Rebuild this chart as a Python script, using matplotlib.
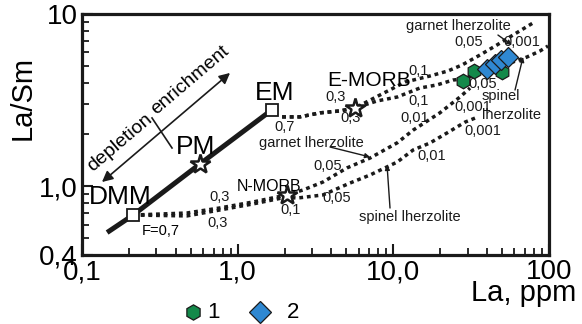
import numpy as np
import matplotlib
matplotlib.use("Agg")
import matplotlib.pyplot as plt
from matplotlib.lines import Line2D
from matplotlib.ticker import FixedLocator, FixedFormatter, LogLocator, NullFormatter

plt.rcParams['font.family'] = ['Liberation Sans', 'DejaVu Sans']

# source compositions (La ppm, La/Sm)
dmm = (0.213, 0.682)
pm = (0.573, 1.35)
em = (1.66, 2.78)
n_morb = (2.07, 0.892)
e_morb = (5.67, 2.85)

# mixing line DMM - PM - EM
mix_x = [0.145, 0.213, 0.573, 1.66]
mix_y = [0.54, 0.682, 1.35, 2.78]

# melting curves, DMM source
dmm_gt_x = [0.213, 0.472, 0.770, 1.254, 2.07, 2.63, 3.53, 5.04, 7.08, 10.6, 13.4, 19.9, 26.8, 31.1]
dmm_gt_y = [0.682, 0.701, 0.750, 0.812, 0.892, 0.953, 1.06, 1.28, 1.46, 1.79, 2.12, 2.67, 3.30, 3.72]
dmm_sp_x = [0.213, 0.472, 0.770, 1.254, 2.07, 2.40, 3.53, 5.27, 7.08, 10.6, 13.4, 17.2, 22.1, 28.9, 35.0]
dmm_sp_y = [0.682, 0.674, 0.730, 0.791, 0.868, 0.855, 0.892, 1.046, 1.164, 1.385, 1.626, 1.786, 2.04, 2.36, 2.53]

# melting curves, EM source
em_gt_x = [1.93, 2.51, 3.38, 4.54, 5.67, 8.21, 11.9, 17.2, 22.4, 27.6, 36.0, 46.3, 58.7, 78.9]
em_gt_y = [2.53, 2.53, 2.67, 2.74, 2.85, 3.39, 4.03, 4.37, 4.67, 5.06, 5.78, 6.61, 7.55, 8.87]
em_sp_x = [1.93, 2.51, 3.38, 4.54, 5.67, 7.86, 10.6, 14.8, 19.1, 24.2, 28.0, 41.8, 58.7, 72.2, 87.5, 98.5]
em_sp_y = [2.53, 2.53, 2.67, 2.74, 2.85, 3.13, 3.30, 3.72, 3.88, 4.14, 4.20, 4.73, 5.27, 5.63, 6.10, 6.52]

# samples
grp1_x = [28.0, 32.9, 49.8]
grp1_y = [4.09, 4.67, 4.61]
grp2_x = [39.9, 44.9, 49.1, 54.5]
grp2_y = [4.80, 5.13, 5.41, 5.63]

x_ticks = [0.1, 1, 10, 100]
x_labels = ['0,1', '1,0', '10,0', '100']
y_ticks = [0.4, 1, 10]
y_labels = ['0,4', '1,0', '10']

green = '#13894a'
blue = '#2f88d2'
ink = '#1a1a1a'

fig = plt.figure(figsize=(5.82, 3.24), dpi=100)
ax = fig.add_axes([0.1409, 0.2130, 0.8024, 0.7438])
ax.set_xscale('log')
ax.set_yscale('log')
ax.set_xlim(0.1, 100)
ax.set_ylim(0.4, 10)

dots = dict(color=ink, lw=2.5, linestyle=(0, (1.1, 1.1)), dash_capstyle='butt', zorder=2)
ax.plot(dmm_gt_x, dmm_gt_y, **dots)
ax.plot(dmm_sp_x, dmm_sp_y, **dots)
ax.plot(em_gt_x, em_gt_y, **dots)
ax.plot(em_sp_x, em_sp_y, **dots)

ax.plot(mix_x, mix_y, color=ink, lw=3.6, solid_capstyle='butt', zorder=3)

ax.plot(*dmm, 's', ms=9, mfc='white', mec=ink, mew=1.3, zorder=5)
ax.plot(*em, 's', ms=9, mfc='white', mec=ink, mew=1.3, zorder=5)
for p in (pm, n_morb, e_morb):
    ax.plot(*p, '*', ms=15, mfc='white', mec=ink, mew=1.8, zorder=5)

ax.plot(grp1_x, grp1_y, 'h', ms=10.5, mfc=green, mec=ink, mew=0.9, ls='none', zorder=6)
ax.plot(grp2_x, grp2_y, 'D', ms=10.5, mfc=blue, mec=ink, mew=0.9, ls='none', zorder=7)

# labels of sources
ax.text(0.1754, 0.868, 'DMM', fontsize=19, ha='center', va='center')
ax.text(0.540, 1.692, 'PM', fontsize=19, ha='center', va='center')
ax.text(1.737, 3.48, 'EM', fontsize=19, ha='center', va='center')
ax.text(6.98, 4.14, 'E-MORB', fontsize=15, ha='center', va='center')
ax.text(1.589, 0.992, 'N-MORB', fontsize=11.5, ha='center', va='center')

# depletion / enrichment arrow
ax.annotate('', xy=(0.893, 4.55), xytext=(0.1344, 1.06),
            arrowprops=dict(arrowstyle='<|-|>', color=ink, lw=1.2,
                            mutation_scale=16, shrinkA=0, shrinkB=0))
ax.plot([0.2817, 0.3787], [2.494, 1.670], color=ink, lw=1.2)
ax.text(0.1754, 1.786, 'depletion', fontsize=14, rotation=40.4,
        rotation_mode='anchor', ha='center', va='center')
ax.text(0.494, 4.14, 'enrichment', fontsize=14, rotation=40.4,
        rotation_mode='anchor', ha='center', va='center')

# melting degree labels
small = dict(fontsize=10.5, ha='center', va='center', color=ink)
f_labels = [
    (0.770, 0.868, '0,3'), (0.748, 0.613, '0,3'), (2.20, 0.730, '0,1'),
    (3.80, 1.313, '0,05'), (4.35, 0.856, '0,05'), (2.01, 2.211, '0,7'),
    (4.28, 3.30, '0,3'), (5.35, 2.494, '0,3'), (14.6, 4.67, '0,1'),
    (14.6, 3.13, '0,1'), (13.78, 2.494, '0,01'), (17.72, 1.501, '0,01'),
    (32.5, 2.888, '0,001'), (37.7, 2.096, '0,001'), (37.7, 3.926, '0,05'),
    (30.6, 6.88, '0,05'), (67.1, 6.88, '0,001'),
]
for lx, ly, s in f_labels:
    ax.text(lx, ly, s, **small)
ax.text(0.243, 0.551, 'F=0,7', fontsize=10.5, ha='left', va='center')

# mantle lithology labels
lith = dict(fontsize=10.5, ha='center', va='center', color=ink)
ax.text(2.96, 1.786, 'garnet lherzolite', **lith)
ax.text(12.79, 0.665, 'spinel lherzolite', **lith)
ax.text(26.0, 8.52, 'garnet lherzolite', **lith)
ax.text(49.2, 3.345, 'spinel', **lith)
ax.text(57.8, 2.596, 'lherzolite', **lith)
pointer = dict(arrowstyle='-|>', color=ink, lw=1.0, mutation_scale=7, shrinkA=0, shrinkB=0)
ax.annotate('', xy=(7.08, 1.481), xytext=(3.92, 1.692), arrowprops=pointer)
ax.annotate('', xy=(9.11, 1.331), xytext=(9.52, 0.749), arrowprops=pointer)
ax.annotate('', xy=(57.8, 6.61), xytext=(47.0, 7.55), arrowprops=pointer)
ax.annotate('', xy=(68.1, 5.63), xytext=(60.5, 3.624), arrowprops=pointer)

# axes styling
for sp in ax.spines.values():
    sp.set_linewidth(2.3)
    sp.set_color(ink)
ax.xaxis.set_major_locator(FixedLocator(x_ticks))
ax.xaxis.set_major_formatter(FixedFormatter(x_labels))
ax.xaxis.set_minor_locator(LogLocator(base=10, subs=np.arange(2, 10)))
ax.xaxis.set_minor_formatter(NullFormatter())
ax.yaxis.set_major_locator(FixedLocator(y_ticks))
ax.yaxis.set_major_formatter(FixedFormatter(y_labels))
ax.yaxis.set_minor_locator(LogLocator(base=10, subs=np.arange(2, 10)))
ax.yaxis.set_minor_formatter(NullFormatter())
ax.tick_params(which='both', direction='in', color=ink, top=False, right=False)
ax.tick_params(which='major', length=8, width=1.5, labelsize=20, pad=3)
ax.tick_params(which='minor', length=5, width=1.3)

fig.text(0.0395, 0.6975, 'La/Sm', fontsize=21, rotation=90, ha='center', va='center')
fig.text(0.899, 0.0957, 'La, ppm', fontsize=21, ha='center', va='center')

# legend
fig.add_artist(Line2D([0.3316], [0.037], marker='h', ms=11, mfc=green, mec=ink, mew=0.9,
                      transform=fig.transFigure))
fig.text(0.356, 0.037, '1', fontsize=16, ha='left', va='center')
fig.add_artist(Line2D([0.4467], [0.037], marker='D', ms=11.5, mfc=blue, mec=ink, mew=0.9,
                      transform=fig.transFigure))
fig.text(0.493, 0.037, '2', fontsize=16, ha='left', va='center')

fig.savefig('out.png', dpi=100)
